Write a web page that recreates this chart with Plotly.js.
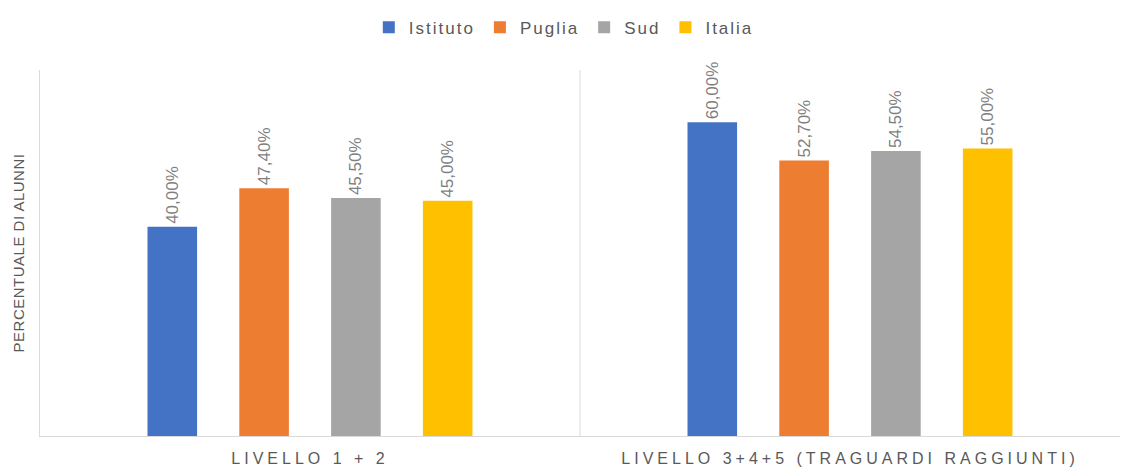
<!DOCTYPE html>
<html>
<head>
<meta charset="utf-8">
<script src="https://cdn.plot.ly/plotly-3.0.1.min.js"></script>
<style>
html,body{margin:0;padding:0;background:#fff;}
#chart{width:1129px;height:468px;}
.xtick text{letter-spacing:4px;}
.legendtext{letter-spacing:2px;}
.ytitle{letter-spacing:0.5px;}
</style>
</head>
<body>
<div id="chart"></div>
<script>
const categories = ["LIVELLO 1 + 2", "LIVELLO 3+4+5 (TRAGUARDI RAGGIUNTI)"];
const seriesNames = ["Istituto", "Puglia", "Sud", "Italia"];
const istituto = [40.0, 60.0];
const puglia = [47.4, 52.7];
const sud = [45.5, 54.5];
const italia = [45.0, 55.0];
const colors = ["#4472C4", "#ED7D31", "#A5A5A5", "#FFC000"];

const allValues = [istituto, puglia, sud, italia];
const fmt = v => v.toFixed(2).replace('.', ',') + '%';

const traces = allValues.map((vals, i) => ({
  type: 'bar',
  name: seriesNames[i],
  x: categories,
  y: vals,
  marker: {color: colors[i]},
  text: vals.map(fmt),
  textposition: 'outside',
  textangle: -90,
  constraintext: 'none',
  cliponaxis: false,
  textfont: {family: '"Liberation Sans Narrow", "Liberation Sans", sans-serif', size: 17, color: '#7f7f7f'},
  hoverinfo: 'none'
}));

const layout = {
  width: 1129,
  height: 468,
  margin: {l: 40, r: 9, t: 70, b: 32, autoexpand: false},
  paper_bgcolor: '#ffffff',
  plot_bgcolor: '#ffffff',
  barmode: 'group',
  bargap: 0.32,
  bargroupgap: 0.46,
  showlegend: true,
  legend: {
    orientation: 'h',
    x: 0.485, xanchor: 'center',
    y: 1.165, yanchor: 'top',
    font: {family: '"Liberation Sans", sans-serif', size: 17, color: '#595959'},
    itemwidth: 30,
    tracegroupgap: 0
  },
  xaxis: {
    type: 'category',
    showline: true,
    linecolor: '#d9d9d9',
    linewidth: 1,
    ticks: '',
    showgrid: false,
    zeroline: false,
    ticklabelstandoff: 8,
    tickfont: {family: '"Liberation Sans Narrow", "Liberation Sans", sans-serif', size: 16, color: '#595959'}
  },
  yaxis: {
    range: [0, 70],
    showline: true,
    linecolor: '#d9d9d9',
    linewidth: 1,
    showticklabels: false,
    ticks: '',
    showgrid: false,
    zeroline: false,
    title: {
      text: 'PERCENTUALE DI ALUNNI',
      standoff: 10,
      font: {family: '"Liberation Sans Narrow", "Liberation Sans", sans-serif', size: 15, color: '#595959'}
    }
  },
  shapes: [{
    type: 'line', xref: 'x', yref: 'paper',
    x0: 0.5, x1: 0.5, y0: 0, y1: 1,
    line: {color: '#d9d9d9', width: 1}
  }]
};

Plotly.newPlot('chart', traces, layout, {displayModeBar: false, staticPlot: true});
</script>
</body>
</html>
